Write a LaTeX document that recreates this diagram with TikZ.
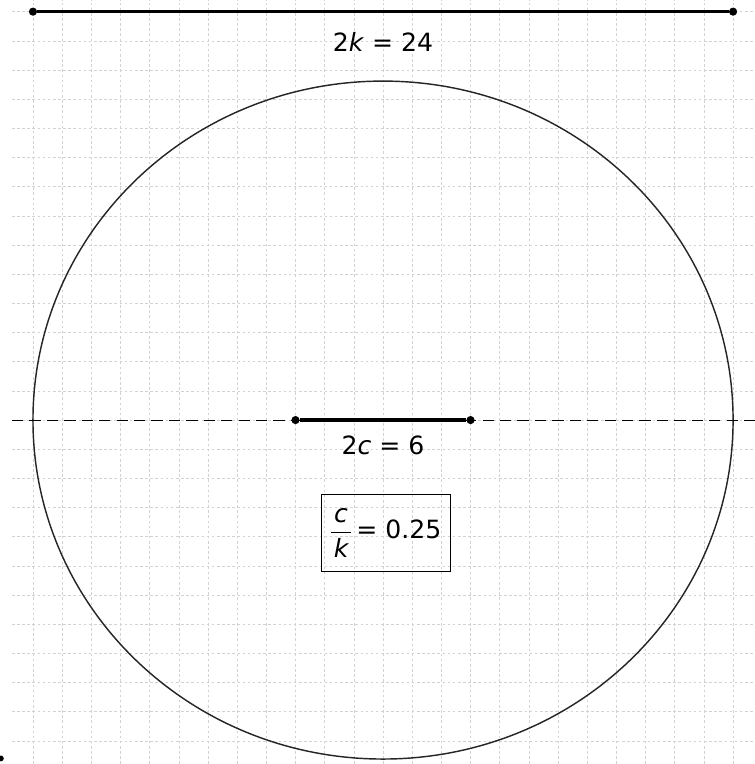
\documentclass[tikz,border=0pt]{standalone}
\usepackage{fontspec}
\setmainfont{DejaVu Sans}
\usetikzlibrary{positioning}

\begin{document}
\begin{tikzpicture}[
    gridline/.style={gray!35, line width=0.6pt, dash pattern=on 2.5pt off 2.5pt},
    seg/.style={line width=3.5pt},
    pt/.style={circle, fill, inner sep=0pt, minimum size=0.28cm},
    lbl/.style={font=\fontsize{24.5}{29}\selectfont, inner sep=0pt}
  ]

  \useasboundingbox (-13.13,-11.79) rectangle (12.75,14.40);

  % 背景网格
  \foreach \x in {-12,...,12}
    \draw[gridline] (\x,-11.79) -- (\x,14.40);
  \foreach \y in {-11,...,14}
    \draw[gridline] (-12.72,\y) -- (12.75,\y);

  % 长轴长度 2k
  \node[pt] (k1) at (-12,14) {};
  \node[pt] (k2) at (12,14) {};
  \draw[seg] (k1) -- (k2);
  \node[lbl] (lk) at (0,12.96) {2\textit{k} = 24};

  % 椭圆
  \draw[line width=1.4pt, black!85] (0,0) ellipse [x radius=12, y radius=11.62];

  % 对称轴
  \coordinate (axL) at (-12.72,0);
  \coordinate (axR) at (12.75,0);
  \draw[line width=1pt, dash pattern=on 11pt off 6pt] (axL) -- (axR);

  % 焦点 2c
  \node[pt] (f1) at (-3,0) {};
  \node[pt] (f2) at (3,0) {};
  \draw[seg] (f1) -- (f2);
  \node[lbl] (lc) at (0,-0.86) {2\textit{c} = 6};

  % 比值 c/k
  \node[lbl, draw, line width=1pt, minimum width=4.42cm, minimum height=2.64cm]
    (ratio) at (0.09,-3.86)
    {$\frac{\mbox{\itshape\hspace{3pt}c\hspace{3pt}}\rule[-9pt]{0pt}{0pt}}{\rule{0pt}{24pt}\mbox{\itshape k}}$\hspace{4pt}= 0.25};

  % 左下角的点
  \node[pt, minimum size=0.2cm] (p0) at (-13.1,-11.6) {};

\end{tikzpicture}
\end{document}
